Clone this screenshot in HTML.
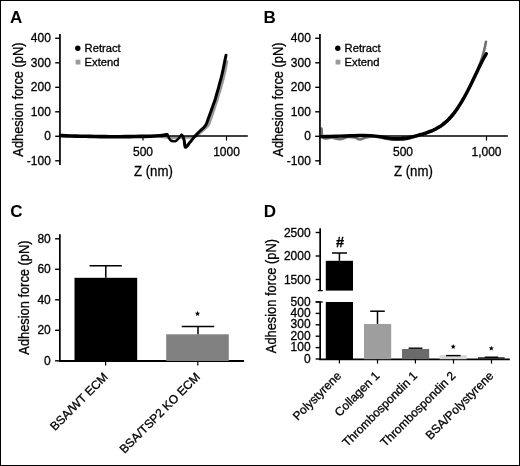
<!DOCTYPE html>
<html><head><meta charset="utf-8"><style>
html,body{margin:0;padding:0;background:#fff;width:520px;height:466px;overflow:hidden}
svg{display:block;will-change:transform}
.wrap{width:520px;height:466px}
text{font-family:"Liberation Sans", sans-serif;stroke:#000;stroke-width:0.3px;paint-order:stroke}
</style></head><body><div class="wrap">
<svg width="520" height="466" viewBox="0 0 520 466" font-family='"Liberation Sans", sans-serif'>
<rect x="0" y="0" width="520" height="466" fill="#fff"/>
<text x="9.9" y="22.5" font-size="17" text-anchor="start" font-weight="bold" fill="#000" style="stroke-width:0">A</text>
<path d="M160.00,136.30 C161.67,136.55 166.67,137.58 170.00,137.80 C173.33,138.02 176.67,137.67 180.00,137.60 C183.33,137.53 187.33,137.58 190.00,137.40 C192.67,137.22 194.33,137.23 196.00,136.50 C197.67,135.77 198.67,134.17 200.00,133.00 C201.33,131.83 202.58,130.83 204.00,129.50 C205.42,128.17 207.33,126.83 208.50,125.00 C209.67,123.17 210.20,120.67 211.00,118.50 C211.80,116.33 212.57,114.17 213.30,112.00 C214.03,109.83 214.73,107.50 215.40,105.50 C216.07,103.50 216.70,101.92 217.30,100.00 C217.90,98.08 218.40,96.00 219.00,94.00 C219.60,92.00 220.27,90.17 220.90,88.00 C221.53,85.83 222.22,83.25 222.80,81.00 C223.38,78.75 223.90,76.67 224.40,74.50 C224.90,72.33 225.37,70.17 225.80,68.00 C226.23,65.83 226.80,62.58 227.00,61.50" fill="none" stroke="#9a9a9a" stroke-width="2.6" stroke-linejoin="round" stroke-linecap="round" />
<path d="M60.50,135.60 C62.08,135.67 66.75,135.90 70.00,136.00 C73.25,136.10 76.67,136.13 80.00,136.20 C83.33,136.27 86.67,136.33 90.00,136.40 C93.33,136.47 96.67,136.55 100.00,136.60 C103.33,136.65 106.67,136.68 110.00,136.70 C113.33,136.72 116.67,136.72 120.00,136.70 C123.33,136.68 126.67,136.65 130.00,136.60 C133.33,136.55 136.67,136.47 140.00,136.40 C143.33,136.33 146.67,136.32 150.00,136.20 C153.33,136.08 157.67,135.85 160.00,135.70 C162.33,135.55 162.83,135.47 164.00,135.30 C165.17,135.13 166.50,134.80 167.00,134.70" fill="none" stroke="#000" stroke-width="3.6" stroke-linejoin="round" stroke-linecap="round" />
<path d="M164.00,135.30 C164.50,135.20 166.25,134.38 167.00,134.70 C167.75,135.02 167.92,136.27 168.50,137.20 C169.08,138.13 169.67,139.62 170.50,140.30 C171.33,140.98 172.50,141.25 173.50,141.30 C174.50,141.35 175.67,141.05 176.50,140.60 C177.33,140.15 177.87,139.32 178.50,138.60 C179.13,137.88 179.78,136.90 180.30,136.30 C180.82,135.70 181.15,134.92 181.60,135.00 C182.05,135.08 182.77,136.50 183.00,136.80" fill="none" stroke="#000" stroke-width="2.4" stroke-linejoin="round" stroke-linecap="round" />
<path d="M181.60,135.00 C181.83,135.30 182.57,135.88 183.00,136.80 C183.43,137.72 183.80,138.75 184.20,140.50 C184.60,142.25 184.43,147.00 185.40,147.30 C186.37,147.60 188.73,143.75 190.00,142.30 C191.27,140.85 192.00,139.82 193.00,138.60 C194.00,137.38 195.00,136.10 196.00,135.00 C197.00,133.90 198.08,132.90 199.00,132.00 C199.92,131.10 200.67,130.40 201.50,129.60 C202.33,128.80 203.20,128.10 204.00,127.20 C204.80,126.30 205.58,125.63 206.30,124.20 C207.02,122.77 207.55,120.67 208.30,118.60 C209.05,116.53 210.02,113.98 210.80,111.80 C211.58,109.62 212.30,107.47 213.00,105.50 C213.70,103.53 214.38,101.92 215.00,100.00 C215.62,98.08 216.12,96.03 216.70,94.00 C217.28,91.97 217.90,89.97 218.50,87.80 C219.10,85.63 219.72,83.22 220.30,81.00 C220.88,78.78 221.48,76.67 222.00,74.50 C222.52,72.33 223.00,69.92 223.40,68.00 C223.80,66.08 224.08,64.58 224.40,63.00 C224.72,61.42 225.03,59.78 225.30,58.50 C225.57,57.22 225.88,55.83 226.00,55.30" fill="none" stroke="#000" stroke-width="3.0" stroke-linejoin="round" stroke-linecap="round" />
<line x1="59.95" y1="34" x2="59.95" y2="165" stroke="#000" stroke-width="1.7"/>
<line x1="55.2" y1="38.30000000000001" x2="59.95" y2="38.30000000000001" stroke="#000" stroke-width="1.4"/>
<text x="50.9" y="42.30000000000001" font-size="12" text-anchor="end" font-weight="normal" fill="#000" >400</text>
<line x1="55.2" y1="62.80000000000001" x2="59.95" y2="62.80000000000001" stroke="#000" stroke-width="1.4"/>
<text x="50.9" y="66.80000000000001" font-size="12" text-anchor="end" font-weight="normal" fill="#000" >300</text>
<line x1="55.2" y1="87.30000000000001" x2="59.95" y2="87.30000000000001" stroke="#000" stroke-width="1.4"/>
<text x="50.9" y="91.30000000000001" font-size="12" text-anchor="end" font-weight="normal" fill="#000" >200</text>
<line x1="55.2" y1="111.80000000000001" x2="59.95" y2="111.80000000000001" stroke="#000" stroke-width="1.4"/>
<text x="50.9" y="115.80000000000001" font-size="12" text-anchor="end" font-weight="normal" fill="#000" >100</text>
<line x1="55.2" y1="136.3" x2="59.95" y2="136.3" stroke="#000" stroke-width="1.4"/>
<text x="50.9" y="140.3" font-size="12" text-anchor="end" font-weight="normal" fill="#000" >0</text>
<line x1="55.2" y1="160.8" x2="59.95" y2="160.8" stroke="#000" stroke-width="1.4"/>
<text x="50.9" y="164.8" font-size="12" text-anchor="end" font-weight="normal" fill="#000" >-100</text>
<line x1="59.95" y1="136.1" x2="247.8" y2="136.1" stroke="#000" stroke-width="1.5"/>
<line x1="143" y1="136.1" x2="143" y2="140.5" stroke="#000" stroke-width="1.2"/>
<text x="143" y="155.8" font-size="12" text-anchor="middle" font-weight="normal" fill="#000" >500</text>
<line x1="226.5" y1="136.1" x2="226.5" y2="140.5" stroke="#000" stroke-width="1.2"/>
<text x="226.5" y="155.8" font-size="12" text-anchor="middle" font-weight="normal" fill="#000" >1000</text>
<g transform="translate(153.4,175.9) scale(0.93,1)"><text x="0" y="0" font-size="14.2" text-anchor="middle">Z (nm)</text></g>
<g transform="translate(22.9,99.6) rotate(-90) scale(0.885,1)"><text x="0" y="0" font-size="14.5" text-anchor="middle">Adhesion force (pN)</text></g>
<circle cx="77.8" cy="48.3" r="2.7" fill="#000"/>
<rect x="75.6" y="59.7" width="4.8" height="4.8" fill="#9a9a9a"/>
<text x="84.6" y="51.7" font-size="11.2" text-anchor="start" font-weight="normal" fill="#000" >Retract</text>
<text x="84.6" y="65.8" font-size="11.2" text-anchor="start" font-weight="normal" fill="#000" >Extend</text>
<text x="263.6" y="22.5" font-size="17" text-anchor="start" font-weight="bold" fill="#000" style="stroke-width:0">B</text>
<path d="M321.50,128.50 C321.63,129.83 321.72,134.83 322.30,136.50 C322.88,138.17 323.38,138.28 325.00,138.50 C326.62,138.72 329.50,137.67 332.00,137.80 C334.50,137.93 337.33,139.43 340.00,139.30 C342.67,139.17 345.50,137.30 348.00,137.00 C350.50,136.70 353.00,137.08 355.00,137.50 C357.00,137.92 358.17,139.50 360.00,139.50 C361.83,139.50 363.50,137.98 366.00,137.50 C368.50,137.02 371.83,136.42 375.00,136.60 C378.17,136.78 382.17,138.10 385.00,138.60 C387.83,139.10 389.50,139.43 392.00,139.60 C394.50,139.77 397.67,139.68 400.00,139.60 C402.33,139.52 404.00,139.45 406.00,139.10 C408.00,138.75 410.50,137.91 412.00,137.52 C413.50,137.13 414.00,137.01 415.00,136.74 C416.00,136.47 417.00,136.19 418.00,135.91 C419.00,135.63 420.00,135.35 421.00,135.05 C422.00,134.75 423.00,134.45 424.00,134.13 C425.00,133.81 426.00,133.49 427.00,133.14 C428.00,132.79 429.00,132.43 430.00,132.04 C431.00,131.65 432.00,131.24 433.00,130.79 C434.00,130.34 435.00,129.86 436.00,129.33 C437.00,128.80 438.00,128.25 439.00,127.63 C440.00,127.01 441.00,126.35 442.00,125.62 C443.00,124.89 444.00,124.12 445.00,123.27 C446.00,122.42 447.00,121.51 448.00,120.52 C449.00,119.53 450.00,118.48 451.00,117.35 C452.00,116.22 453.00,115.01 454.00,113.72 C455.00,112.43 456.00,111.07 457.00,109.63 C458.00,108.19 459.00,106.66 460.00,105.06 C461.00,103.46 462.00,101.78 463.00,100.04 C464.00,98.30 465.00,96.48 466.00,94.61 C467.00,92.74 468.07,90.84 469.00,88.82 C469.93,86.80 470.65,84.64 471.60,82.50 C472.55,80.36 473.68,78.17 474.70,76.00 C475.72,73.83 476.77,71.67 477.70,69.50 C478.63,67.33 479.53,65.08 480.30,63.00 C481.07,60.92 481.73,58.83 482.30,57.00 C482.87,55.17 483.28,53.58 483.70,52.00 C484.12,50.42 484.50,48.83 484.80,47.50 C485.10,46.17 485.30,44.97 485.50,44.00 C485.70,43.03 485.92,42.08 486.00,41.70" fill="none" stroke="#707070" stroke-width="2.6" stroke-linejoin="round" stroke-linecap="round" />
<path d="M321.00,136.60 C322.50,136.57 326.83,136.48 330.00,136.40 C333.17,136.32 336.67,136.20 340.00,136.10 C343.33,136.00 346.67,135.90 350.00,135.80 C353.33,135.70 356.67,135.53 360.00,135.50 C363.33,135.47 367.00,135.45 370.00,135.60 C373.00,135.75 375.50,136.08 378.00,136.40 C380.50,136.72 382.67,137.13 385.00,137.50 C387.33,137.87 389.50,138.38 392.00,138.60 C394.50,138.82 397.67,138.85 400.00,138.80 C402.33,138.75 404.00,138.61 406.00,138.30 C408.00,137.99 410.50,137.28 412.00,136.92 C413.50,136.56 414.00,136.41 415.00,136.14 C416.00,135.87 417.00,135.59 418.00,135.31 C419.00,135.03 420.00,134.75 421.00,134.45 C422.00,134.15 423.00,133.85 424.00,133.53 C425.00,133.21 426.00,132.89 427.00,132.54 C428.00,132.19 429.00,131.83 430.00,131.44 C431.00,131.05 432.00,130.64 433.00,130.19 C434.00,129.74 435.00,129.26 436.00,128.73 C437.00,128.20 438.00,127.65 439.00,127.03 C440.00,126.41 441.00,125.75 442.00,125.02 C443.00,124.29 444.00,123.52 445.00,122.67 C446.00,121.82 447.00,120.91 448.00,119.92 C449.00,118.93 450.00,117.88 451.00,116.75 C452.00,115.62 453.00,114.41 454.00,113.12 C455.00,111.83 456.00,110.47 457.00,109.03 C458.00,107.59 459.00,106.06 460.00,104.46 C461.00,102.86 462.00,101.18 463.00,99.44 C464.00,97.70 465.00,95.88 466.00,94.01 C467.00,92.14 468.00,90.19 469.00,88.22 C470.00,86.25 471.00,84.21 472.00,82.16 C473.00,80.11 474.00,78.01 475.00,75.93 C476.00,73.85 477.00,71.73 478.00,69.67 C479.00,67.61 480.00,65.54 481.00,63.56 C482.00,61.58 483.12,59.43 484.00,57.80 C484.88,56.17 485.92,54.43 486.30,53.76" fill="none" stroke="#000" stroke-width="3.4" stroke-linejoin="round" stroke-linecap="round" />
<line x1="319.95" y1="34" x2="319.95" y2="165" stroke="#000" stroke-width="1.7"/>
<line x1="315.2" y1="38.30000000000001" x2="319.95" y2="38.30000000000001" stroke="#000" stroke-width="1.4"/>
<text x="310.9" y="42.30000000000001" font-size="12" text-anchor="end" font-weight="normal" fill="#000" >400</text>
<line x1="315.2" y1="62.80000000000001" x2="319.95" y2="62.80000000000001" stroke="#000" stroke-width="1.4"/>
<text x="310.9" y="66.80000000000001" font-size="12" text-anchor="end" font-weight="normal" fill="#000" >300</text>
<line x1="315.2" y1="87.30000000000001" x2="319.95" y2="87.30000000000001" stroke="#000" stroke-width="1.4"/>
<text x="310.9" y="91.30000000000001" font-size="12" text-anchor="end" font-weight="normal" fill="#000" >200</text>
<line x1="315.2" y1="111.80000000000001" x2="319.95" y2="111.80000000000001" stroke="#000" stroke-width="1.4"/>
<text x="310.9" y="115.80000000000001" font-size="12" text-anchor="end" font-weight="normal" fill="#000" >100</text>
<line x1="315.2" y1="136.3" x2="319.95" y2="136.3" stroke="#000" stroke-width="1.4"/>
<text x="310.9" y="140.3" font-size="12" text-anchor="end" font-weight="normal" fill="#000" >0</text>
<line x1="315.2" y1="160.8" x2="319.95" y2="160.8" stroke="#000" stroke-width="1.4"/>
<text x="310.9" y="164.8" font-size="12" text-anchor="end" font-weight="normal" fill="#000" >-100</text>
<line x1="319.95" y1="136.1" x2="507.8" y2="136.1" stroke="#000" stroke-width="1.5"/>
<line x1="403" y1="136.1" x2="403" y2="140.5" stroke="#000" stroke-width="1.2"/>
<text x="403" y="155.8" font-size="12" text-anchor="middle" font-weight="normal" fill="#000" >500</text>
<line x1="486.5" y1="136.1" x2="486.5" y2="140.5" stroke="#000" stroke-width="1.2"/>
<text x="486.5" y="155.8" font-size="12" text-anchor="middle" font-weight="normal" fill="#000" >1,000</text>
<g transform="translate(413.4,175.9) scale(0.93,1)"><text x="0" y="0" font-size="14.2" text-anchor="middle">Z (nm)</text></g>
<g transform="translate(282.9,99.6) rotate(-90) scale(0.885,1)"><text x="0" y="0" font-size="14.5" text-anchor="middle">Adhesion force (pN)</text></g>
<circle cx="337.8" cy="48.3" r="2.7" fill="#000"/>
<rect x="335.6" y="59.7" width="4.8" height="4.8" fill="#9a9a9a"/>
<text x="344.6" y="51.7" font-size="11.2" text-anchor="start" font-weight="normal" fill="#000" >Retract</text>
<text x="344.6" y="65.8" font-size="11.2" text-anchor="start" font-weight="normal" fill="#000" >Extend</text>
<text x="10.2" y="217.4" font-size="17" text-anchor="start" font-weight="bold" fill="#000" style="stroke-width:0">C</text>
<line x1="59.85" y1="234.2" x2="59.85" y2="361.2" stroke="#000" stroke-width="1.7"/>
<line x1="55.1" y1="238.8" x2="59.85" y2="238.8" stroke="#000" stroke-width="1.4"/>
<text x="50.8" y="242.70000000000002" font-size="12" text-anchor="end" font-weight="normal" fill="#000" >80</text>
<line x1="55.1" y1="269.3" x2="59.85" y2="269.3" stroke="#000" stroke-width="1.4"/>
<text x="50.8" y="273.2" font-size="12" text-anchor="end" font-weight="normal" fill="#000" >60</text>
<line x1="55.1" y1="299.8" x2="59.85" y2="299.8" stroke="#000" stroke-width="1.4"/>
<text x="50.8" y="303.7" font-size="12" text-anchor="end" font-weight="normal" fill="#000" >40</text>
<line x1="55.1" y1="330.3" x2="59.85" y2="330.3" stroke="#000" stroke-width="1.4"/>
<text x="50.8" y="334.2" font-size="12" text-anchor="end" font-weight="normal" fill="#000" >20</text>
<line x1="55.1" y1="360.8" x2="59.85" y2="360.8" stroke="#000" stroke-width="1.4"/>
<text x="50.8" y="364.7" font-size="12" text-anchor="end" font-weight="normal" fill="#000" >0</text>
<line x1="59.0" y1="361.0" x2="244" y2="361.0" stroke="#000" stroke-width="1.9"/>
<rect x="74.5" y="277.8" width="62.7" height="83.2" fill="#000"/>
<rect x="166.2" y="334.3" width="62.6" height="26.7" fill="#818181"/>
<line x1="105.8" y1="277.8" x2="105.8" y2="265.7" stroke="#000" stroke-width="1.5"/>
<line x1="89.6" y1="265.7" x2="121.8" y2="265.7" stroke="#000" stroke-width="1.5"/>
<line x1="198" y1="334.3" x2="198" y2="326.5" stroke="#000" stroke-width="1.5"/>
<line x1="181.7" y1="326.5" x2="214.2" y2="326.5" stroke="#000" stroke-width="1.5"/>
<polygon points="197.50,311.00 198.21,312.73 200.07,312.87 198.64,314.07 199.09,315.88 197.50,314.90 195.91,315.88 196.36,314.07 194.93,312.87 196.79,312.73" fill="#000"/>
<line x1="105.6" y1="361" x2="105.6" y2="365.6" stroke="#000" stroke-width="1.2"/>
<line x1="197.8" y1="361" x2="197.8" y2="365.6" stroke="#000" stroke-width="1.2"/>
<g transform="translate(108.6,377.7) rotate(-45)"><text x="0" y="0" font-size="12" text-anchor="end">BSA/WT ECM</text></g>
<g transform="translate(200.8,377.7) rotate(-45)"><text x="0" y="0" font-size="12" text-anchor="end">BSA/TSP2 KO ECM</text></g>
<g transform="translate(29.1,297.6) rotate(-90) scale(0.885,1)"><text x="0" y="0" font-size="14.5" text-anchor="middle">Adhesion force (pN)</text></g>
<text x="263.7" y="217.4" font-size="17" text-anchor="start" font-weight="bold" fill="#000" style="stroke-width:0">D</text>
<line x1="320.15" y1="228.2" x2="320.15" y2="290.6" stroke="#000" stroke-width="1.7"/>
<line x1="317.75" y1="290.6" x2="322.75" y2="290.6" stroke="#000" stroke-width="1.3"/>
<line x1="315.65" y1="232.5" x2="320.15" y2="232.5" stroke="#000" stroke-width="1.4"/>
<text x="310.6" y="236.8" font-size="12" text-anchor="end" font-weight="normal" fill="#000" >2500</text>
<line x1="315.65" y1="256" x2="320.15" y2="256" stroke="#000" stroke-width="1.4"/>
<text x="310.6" y="260.3" font-size="12" text-anchor="end" font-weight="normal" fill="#000" >2000</text>
<line x1="315.65" y1="279.5" x2="320.15" y2="279.5" stroke="#000" stroke-width="1.4"/>
<text x="310.6" y="283.8" font-size="12" text-anchor="end" font-weight="normal" fill="#000" >1500</text>
<line x1="320.15" y1="301.4" x2="320.15" y2="360.1" stroke="#000" stroke-width="1.7"/>
<line x1="315.65" y1="302.0" x2="322.75" y2="302.0" stroke="#000" stroke-width="1.3"/>
<line x1="315.65" y1="302.0" x2="320.15" y2="302.0" stroke="#000" stroke-width="1.4"/>
<text x="310.6" y="305.6" font-size="12" text-anchor="end" font-weight="normal" fill="#000" >500</text>
<line x1="315.65" y1="313.4" x2="320.15" y2="313.4" stroke="#000" stroke-width="1.4"/>
<text x="310.6" y="317.0" font-size="12" text-anchor="end" font-weight="normal" fill="#000" >400</text>
<line x1="315.65" y1="324.8" x2="320.15" y2="324.8" stroke="#000" stroke-width="1.4"/>
<text x="310.6" y="328.40000000000003" font-size="12" text-anchor="end" font-weight="normal" fill="#000" >300</text>
<line x1="315.65" y1="336.2" x2="320.15" y2="336.2" stroke="#000" stroke-width="1.4"/>
<text x="310.6" y="339.8" font-size="12" text-anchor="end" font-weight="normal" fill="#000" >200</text>
<line x1="315.65" y1="347.6" x2="320.15" y2="347.6" stroke="#000" stroke-width="1.4"/>
<text x="310.6" y="351.20000000000005" font-size="12" text-anchor="end" font-weight="normal" fill="#000" >100</text>
<line x1="315.65" y1="359.0" x2="320.15" y2="359.0" stroke="#000" stroke-width="1.4"/>
<text x="310.6" y="362.6" font-size="12" text-anchor="end" font-weight="normal" fill="#000" >0</text>
<line x1="319.29999999999995" y1="359.4" x2="509.8" y2="359.4" stroke="#000" stroke-width="1.7"/>
<rect x="325.8" y="260.8" width="27.2" height="29.8" fill="#000"/>
<rect x="325.8" y="302.0" width="27.2" height="57.2" fill="#000"/>
<rect x="364.0" y="324.0" width="27.2" height="35.2" fill="#9e9e9e"/>
<rect x="402.0" y="349.0" width="27.2" height="10.2" fill="#6b6b6b"/>
<rect x="439.6" y="355.2" width="27.2" height="4.0" fill="#d6d6d6"/>
<rect x="478.0" y="357.2" width="26.6" height="2.0" fill="#333"/>
<line x1="339.4" y1="260.8" x2="339.4" y2="253" stroke="#000" stroke-width="1.5"/>
<line x1="332" y1="253" x2="347" y2="253" stroke="#000" stroke-width="1.5"/>
<line x1="377.5" y1="324" x2="377.5" y2="311.2" stroke="#000" stroke-width="1.5"/>
<line x1="370.2" y1="311.2" x2="384.8" y2="311.2" stroke="#000" stroke-width="1.5"/>
<line x1="408.6" y1="348.2" x2="422.4" y2="348.2" stroke="#000" stroke-width="1.4"/>
<line x1="446" y1="355.6" x2="460.6" y2="355.6" stroke="#000" stroke-width="1.4"/>
<line x1="484.8" y1="357.2" x2="498.2" y2="357.2" stroke="#000" stroke-width="1.4"/>
<text x="340.0" y="246.8" font-size="14.5" text-anchor="middle" font-weight="bold" fill="#000" >#</text>
<polygon points="453.20,344.00 453.91,345.73 455.77,345.87 454.34,347.07 454.79,348.88 453.20,347.90 451.61,348.88 452.06,347.07 450.63,345.87 452.49,345.73" fill="#000"/>
<polygon points="491.30,345.70 492.01,347.43 493.87,347.57 492.44,348.77 492.89,350.58 491.30,349.60 489.71,350.58 490.16,348.77 488.73,347.57 490.59,347.43" fill="#000"/>
<line x1="339.4" y1="359.4" x2="339.4" y2="363.6" stroke="#000" stroke-width="1.2"/>
<g transform="translate(342.0,376.6) rotate(-45)"><text x="0" y="0" font-size="12" text-anchor="end">Polystyrene</text></g>
<line x1="377.5" y1="359.4" x2="377.5" y2="363.6" stroke="#000" stroke-width="1.2"/>
<g transform="translate(380.1,376.6) rotate(-45)"><text x="0" y="0" font-size="12" text-anchor="end">Collagen 1</text></g>
<line x1="415.4" y1="359.4" x2="415.4" y2="363.6" stroke="#000" stroke-width="1.2"/>
<g transform="translate(418.0,376.6) rotate(-45)"><text x="0" y="0" font-size="12" text-anchor="end">Thrombospondin 1</text></g>
<line x1="453.5" y1="359.4" x2="453.5" y2="363.6" stroke="#000" stroke-width="1.2"/>
<g transform="translate(456.1,376.6) rotate(-45)"><text x="0" y="0" font-size="12" text-anchor="end">Thrombospondin 2</text></g>
<line x1="491.5" y1="359.4" x2="491.5" y2="363.6" stroke="#000" stroke-width="1.2"/>
<g transform="translate(494.1,376.6) rotate(-45)"><text x="0" y="0" font-size="12" text-anchor="end">BSA/Polystyrene</text></g>
<g transform="translate(276.3,296.1) rotate(-90) scale(0.885,1)"><text x="0" y="0" font-size="14.5" text-anchor="middle">Adhesion force (pN)</text></g>
<rect x="0.5" y="0.5" width="519" height="465" fill="none" stroke="#000" stroke-width="1"/>
</svg>
</div></body></html>
